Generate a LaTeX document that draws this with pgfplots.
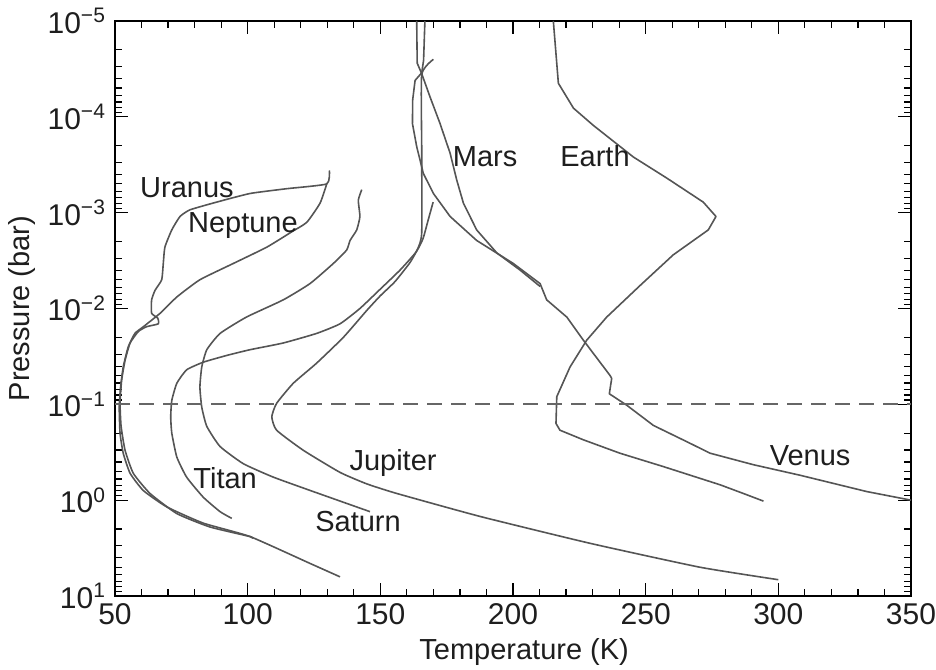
\documentclass[border=0pt]{standalone}
\usepackage{fontspec}
\setmainfont{Liberation Sans}
\usepackage{pgfplots}
\pgfplotsset{compat=1.18}
\definecolor{curve}{RGB}{85,85,85}
\definecolor{txt}{RGB}{30,30,30}
\pgfplotsset{planet/.style={color=curve, solid, line width=0.8pt, line join=round, mark=none}}
\begin{document}
\begin{tikzpicture}
\useasboundingbox (-57.5pt,-36.5pt) rectangle (410.5pt,298pt);
\begin{axis}[
  scale only axis, width=398pt, height=287.5pt,
  at={(0,0)}, anchor=south west,
  xmin=50, xmax=350, ymode=log, ymin=1e-5, ymax=10, y dir=reverse,
  xtick={50,100,...,350}, minor x tick num=4,
  ytick={1e-5,1e-4,1e-3,1e-2,1e-1,1,10},
  minor ytick={2e-5,3e-5,4e-5,5e-5,6e-5,7e-5,8e-5,9e-5,
    2e-4,3e-4,4e-4,5e-4,6e-4,7e-4,8e-4,9e-4,
    2e-3,3e-3,4e-3,5e-3,6e-3,7e-3,8e-3,9e-3,
    2e-2,3e-2,4e-2,5e-2,6e-2,7e-2,8e-2,9e-2,
    0.2,0.3,0.4,0.5,0.6,0.7,0.8,0.9,
    2,3,4,5,6,7,8,9},
  yticklabels={10\textsuperscript{−5},10\textsuperscript{−4},10\textsuperscript{−3},10\textsuperscript{−2},10\textsuperscript{−1},10\textsuperscript{0},10\textsuperscript{1}},
  /pgf/number format/assume math mode=true,
  /pgf/number format/1000 sep={},
  font=\fontsize{14.5}{17}\selectfont,
  tick label style={font=\fontsize{15}{17}\selectfont, text=txt},
  yticklabel style={xshift=-1pt},
  major tick length=6.5pt, minor tick length=3.5pt,
  tick style={black, line width=0.6pt},
  axis line style={black, line width=1pt},
  xlabel={Temperature (K)}, ylabel={Pressure (bar)},
  xlabel style={at={(axis description cs:0.514,-0.097)}, anchor=center, text=txt},
  ylabel style={at={(axis description cs:-0.1168,0.5)}, anchor=center, text=txt},
  clip=true,
]
% Uranus
\addplot[planet, smooth, tension=0.3] table[x=T, y expr=10^(\thisrow{lp})] {
T lp
130.8 -3.44
129.8 -3.30
114.7 -3.25
100.9 -3.20
88.3 -3.11
78.3 -3.03
74.5 -2.96
71.4 -2.82
68.8 -2.64
68.2 -2.47
67.6 -2.30
65.1 -2.19
63.8 -2.09
63.8 -1.95
66.1 -1.90
66.3 -1.84
61.9 -1.81
58.8 -1.76
55.7 -1.64
53.8 -1.46
52.5 -1.25
51.9 -1.01
52.3 -0.77
53.8 -0.52
56.9 -0.28
63.2 -0.07
73.3 0.14
85.8 0.28
100.9 0.38
101.6 0.40
};
% Neptune
\addplot[planet, smooth, tension=0.3] table[x=T, y expr=10^(\thisrow{lp})] {
T lp
129.8 -3.30
127.3 -3.10
122.3 -2.90
116.6 -2.80
107.2 -2.64
94.6 -2.47
82.0 -2.30
73.3 -2.12
67.0 -1.95
60.7 -1.81
57.5 -1.74
55.0 -1.60
53.1 -1.39
52.1 -1.18
51.6 -0.97
51.9 -0.70
53.1 -0.49
55.7 -0.28
60.7 -0.10
69.5 0.07
83.3 0.24
100.9 0.38
123.5 0.66
134.8 0.80
};
% Titan
\addplot[planet, smooth, tension=0.3] table[x=T, y expr=10^(\thisrow{lp})] {
T lp
169.9 -3.11
168.0 -2.92
166.1 -2.73
163.5 -2.59
157.4 -2.40
149.9 -2.20
142.3 -2.00
134.8 -1.84
126.0 -1.74
113.4 -1.64
100.9 -1.57
92.1 -1.51
83.3 -1.44
77.0 -1.36
73.3 -1.22
71.4 -1.04
71.0 -0.87
71.4 -0.70
73.3 -0.45
77.0 -0.24
83.3 -0.03
89.6 0.12
94.0 0.19
};
% Saturn
\addplot[planet, smooth, tension=0.3] table[x=T, y expr=10^(\thisrow{lp})] {
T lp
143.0 -3.24
141.7 -3.13
142.3 -2.96
141.1 -2.82
138.6 -2.71
137.3 -2.61
132.3 -2.47
123.5 -2.26
113.4 -2.09
99.5 -1.91
89.6 -1.74
84.6 -1.57
82.7 -1.39
82.0 -1.18
82.7 -0.97
84.6 -0.77
89.6 -0.56
98.4 -0.38
109.7 -0.24
124.7 -0.09
146.1 0.12
};
% Jupiter
\addplot[planet, smooth, tension=0.3] table[x=T, y expr=10^(\thisrow{lp})] {
T lp
170.0 -4.60
165.6 -4.44
165.6 -3.65
165.6 -2.79
164.2 -2.63
161.2 -2.48
155.5 -2.28
149.9 -2.13
144.9 -1.98
136.1 -1.70
126.0 -1.43
117.2 -1.22
110.9 -1.01
109.1 -0.87
110.9 -0.73
121.0 -0.52
134.8 -0.29
144.9 -0.17
156.2 -0.07
187.6 0.17
229.0 0.45
270.5 0.70
300.0 0.83
};
% Mars
\addplot[planet] table[x=T, y expr=10^(\thisrow{lp})] {
T lp
163.7 -5.00
163.9 -4.56
165.6 -4.45
168.7 -4.21
172.5 -3.93
176.3 -3.62
178.8 -3.34
181.3 -3.10
186.3 -2.82
193.9 -2.58
202.7 -2.40
210.2 -2.23
};
% Venus
\addplot[planet] table[x=T, y expr=10^(\thisrow{lp})] {
T lp
166.8 -5.00
166.3 -4.59
165.6 -4.46
163.1 -4.38
162.2 -4.18
162.1 -3.93
163.7 -3.69
166.2 -3.41
170.0 -3.20
176.3 -2.96
186.3 -2.71
200.1 -2.47
210.2 -2.26
212.7 -2.09
220.3 -1.91
226.5 -1.67
236.6 -1.30
237.2 -1.27
236.3 -1.11
242.9 -0.99
252.9 -0.78
265.5 -0.61
274.3 -0.49
290.6 -0.37
308.2 -0.26
333.3 -0.09
350.0 0.00
};
% Earth
\addplot[planet] table[x=T, y expr=10^(\thisrow{lp})] {
T lp
215.2 -5.00
217.1 -4.35
222.8 -4.09
230.3 -3.91
245.4 -3.58
258.0 -3.36
271.7 -3.11
276.5 -2.96
273.6 -2.82
260.4 -2.56
247.9 -2.24
235.3 -1.91
227.8 -1.67
221.5 -1.39
216.5 -1.08
216.2 -0.80
217.7 -0.73
226.5 -0.63
240.3 -0.49
256.7 -0.35
278.1 -0.16
286.8 -0.07
294.4 0.01
};
% 0.1 bar line
\addplot[color=curve!90, line width=1pt, dash pattern=on 7.5pt off 4.5pt, mark=none] coordinates {(50,0.1) (350,0.1)};
% labels
\begin{scope}[every node/.style={text=txt, font=\fontsize{14.5}{17}\selectfont}]
\node at (axis cs:77.1,5.5e-4) {Uranus};
\node at (axis cs:98.2,1.35e-3) {Neptune};
\node at (axis cs:189.5,2.6e-4) {Mars};
\node at (axis cs:230.9,2.6e-4) {Earth};
\node at (axis cs:91.5,0.59) {Titan};
\node at (axis cs:154.8,0.41) {Jupiter};
\node at (axis cs:141.6,1.66) {Saturn};
\node at (axis cs:312,0.34) {Venus};
\end{scope}
\end{axis}
\end{tikzpicture}
\end{document}
